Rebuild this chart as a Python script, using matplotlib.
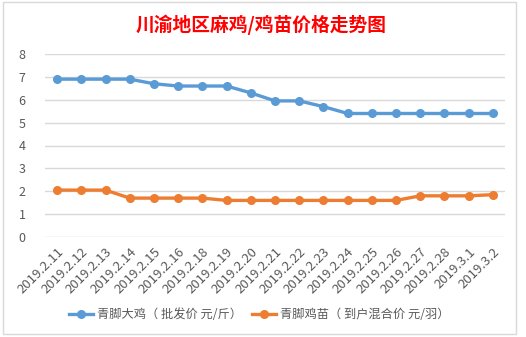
import matplotlib.pyplot as plt
from matplotlib.patches import Rectangle

plt.rcParams['font.family'] = ['Noto Sans CJK SC', 'DejaVu Sans']

# 数据
dates = ['2019.2.11', '2019.2.12', '2019.2.13', '2019.2.14', '2019.2.15', '2019.2.16',
         '2019.2.18', '2019.2.19', '2019.2.20', '2019.2.21', '2019.2.22', '2019.2.23',
         '2019.2.24', '2019.2.25', '2019.2.26', '2019.2.27', '2019.2.28', '2019.3.1',
         '2019.3.2']
big_chicken = [6.9, 6.9, 6.9, 6.9, 6.7, 6.6, 6.6, 6.6, 6.3, 5.95, 5.95, 5.7,
               5.4, 5.4, 5.4, 5.4, 5.4, 5.4, 5.4]
chick = [2.05, 2.05, 2.05, 1.7, 1.7, 1.7, 1.7, 1.6, 1.6, 1.6, 1.6, 1.6,
         1.6, 1.6, 1.6, 1.8, 1.8, 1.8, 1.85]
label_big = '青脚大鸡（ 批发价 元/斤）'
label_chick = '青脚鸡苗（ 到户混合价 元/羽）'

W, H = 526, 337
fig = plt.figure(figsize=(W / 100, H / 100), dpi=100)

# 图表外框
fig.patches.append(Rectangle((3 / W, 1 - 334 / H), 513 / W, 332 / H,
                             transform=fig.transFigure, fill=False,
                             edgecolor='#d9d9d9', linewidth=1))

ax = fig.add_axes([45 / W, 1 - 237 / H, 460 / W, 183 / H])
x = range(len(dates))
ax.plot(x, big_chicken, color='#5b9bd5', linewidth=2.4, marker='o', markersize=5.5,
        label=label_big)
ax.plot(x, chick, color='#ed7d31', linewidth=2.4, marker='o', markersize=5.5,
        label=label_chick)

ax.set_xlim(-0.5, len(dates) - 0.5)
ax.set_ylim(0, 8)
ax.set_yticks(range(0, 9))
ax.yaxis.grid(True, color='#d9d9d9', linewidth=1)
ax.set_axisbelow(True)
for s in ax.spines.values():
    s.set_visible(False)
ax.tick_params(axis='both', length=0, colors='#595959', labelsize=9)
ax.tick_params(axis='y', pad=14)
ax.set_xticks(list(x))
ax.set_xticklabels(dates, rotation=45, ha='right', rotation_mode='anchor', fontsize=9.5,
                   fontweight='light')
ax.tick_params(axis='x', pad=6)

fig.text(261 / W, 1 - 25 / H, '川渝地区麻鸡/鸡苗价格走势图', color='#ff0000',
         fontsize=13.5, fontweight='bold', ha='center', va='center')

fig.legend(loc='center', bbox_to_anchor=(259 / W, 1 - 315 / H), ncol=2, frameon=False,
           fontsize=8.8, labelcolor='#595959', handlelength=2.0, columnspacing=0.8,
           handletextpad=0.3)

fig.savefig('out.png', dpi=100)
